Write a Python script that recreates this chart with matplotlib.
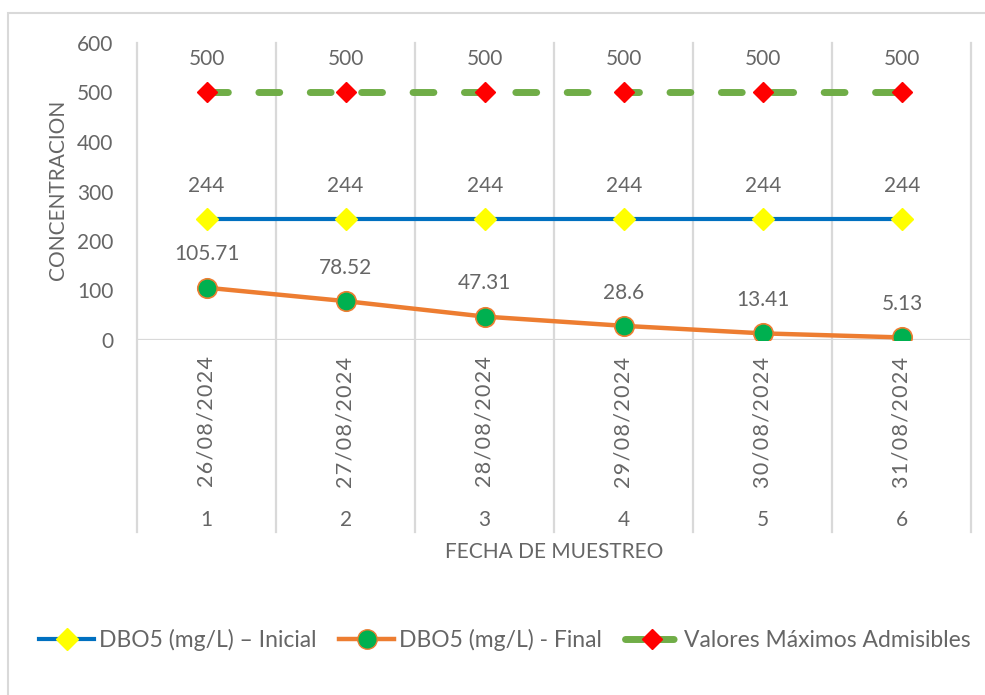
import matplotlib
matplotlib.use("Agg")
import matplotlib.pyplot as plt
import matplotlib.transforms as mtransforms
from matplotlib.patches import Rectangle
from matplotlib.lines import Line2D

# Sampling dates and sample numbers (two-level category axis)
fechas = ["26/08/2024", "27/08/2024", "28/08/2024",
          "29/08/2024", "30/08/2024", "31/08/2024"]
muestras = ["1", "2", "3", "4", "5", "6"]

# BOD5 concentrations (mg/L)
dbo5_inicial = [244, 244, 244, 244, 244, 244]
dbo5_final = [105.71, 78.52, 47.31, 28.6, 13.41, 5.13]
valores_max = [500, 500, 500, 500, 500, 500]

y_ticks = [0, 100, 200, 300, 400, 500, 600]

plt.rcParams["font.family"] = ["Lato", "DejaVu Sans"]
TXT = "#666666"
GRID = "#D9D9D9"

W, H = 985, 695
fig = plt.figure(figsize=(W / 100, H / 100), dpi=100)

# chart-area border
fig.patches.append(Rectangle((8 / W, -0.01), 1.02, (H - 13) / H + 0.01,
                             transform=fig.transFigure, fill=False,
                             edgecolor=GRID, lw=1.5))

ax = fig.add_axes([137 / W, (H - 340) / H, (971.5 - 137) / W, 297 / H])
x = list(range(1, len(fechas) + 1))

ax.set_xlim(0.5, len(fechas) + 0.5)
ax.set_ylim(0, 600)
for s in ax.spines.values():
    s.set_visible(False)
ax.set_yticks(y_ticks)
ax.set_yticklabels([str(v) for v in y_ticks], fontsize=15, color=TXT)
ax.tick_params(axis="y", length=0, pad=17)
ax.set_xticks([])

# category separators extending down through the label area
for b in [i + 0.5 for i in range(0, len(fechas) + 1)]:
    ax.axvline(b, ymin=-0.646, ymax=1, color=GRID, lw=1.6, clip_on=False, zorder=0)
ax.axhline(0, color=GRID, lw=1.6, zorder=0)

# series
ax.plot(x, valores_max, color="#70AD47", lw=5, dashes=(3, 4.4),
        dash_capstyle="round", marker="D", markersize=10.5,
        markerfacecolor="#FF0000", markeredgecolor="#FF0000", zorder=3)
ax.plot(x, dbo5_inicial, color="#0070C0", lw=3, marker="D", markersize=11,
        markerfacecolor="#FFFF00", markeredgecolor="#FFFF00", zorder=3)
ax.plot(x, dbo5_final, color="#ED7D31", lw=3.2, solid_capstyle="round",
        marker="o", markersize=14, markerfacecolor="#00B050",
        markeredgecolor="#ED7D31", markeredgewidth=1.2, zorder=4)

# data labels
for serie in (valores_max, dbo5_inicial, dbo5_final):
    for xi, v in zip(x, serie):
        ax.annotate(f"{v:g}", (xi, v), xytext=(0, 24), textcoords="offset points",
                    ha="center", va="center", fontsize=15, color=TXT)

# category labels (dates slightly letter-spaced)
tr = mtransforms.blended_transform_factory(ax.transData, ax.transAxes)
for xi, f, m in zip(x, fechas, muestras):
    ax.text(xi, -0.276, "\u200a".join(f), rotation=90, ha="center", va="center",
            fontsize=15.5, color=TXT, transform=tr)
    ax.text(xi, -0.606, m, ha="center", va="center",
            fontsize=15, color=TXT, transform=tr)

ax.text(0.5, -0.714, "FECHA DE MUESTREO", ha="center", va="center",
        fontsize=15, color=TXT, transform=ax.transAxes)
fig.text(58 / W, 1 - 190 / H, "CONCENTRACION", rotation=90, ha="center",
         va="center", fontsize=15, color=TXT)

handles = [
    Line2D([], [], color="#0070C0", lw=3, marker="D", markersize=11,
           markerfacecolor="#FFFF00", markeredgecolor="#FFFF00"),
    Line2D([], [], color="#ED7D31", lw=3.2, marker="o", markersize=14,
           markerfacecolor="#00B050", markeredgecolor="#ED7D31"),
    Line2D([], [], color="#70AD47", lw=5, dashes=(2.6, 1.8),
           dash_capstyle="round", marker="D", markersize=10.5,
           markerfacecolor="#FF0000", markeredgecolor="#FF0000"),
]
labels = ["DBO5 (mg/L) – Inicial", "DBO5 (mg/L) - Final",
          "Valores Máximos Admisibles"]
leg = fig.legend(handles, labels, loc="center", ncol=3, frameon=False,
                 bbox_to_anchor=(505 / W, 1 - 640 / H), fontsize=16.5,
                 handlelength=2.4, handletextpad=0.2, columnspacing=1.0,
                 labelcolor=TXT)

fig.savefig("out.png", dpi=100, facecolor="white")
